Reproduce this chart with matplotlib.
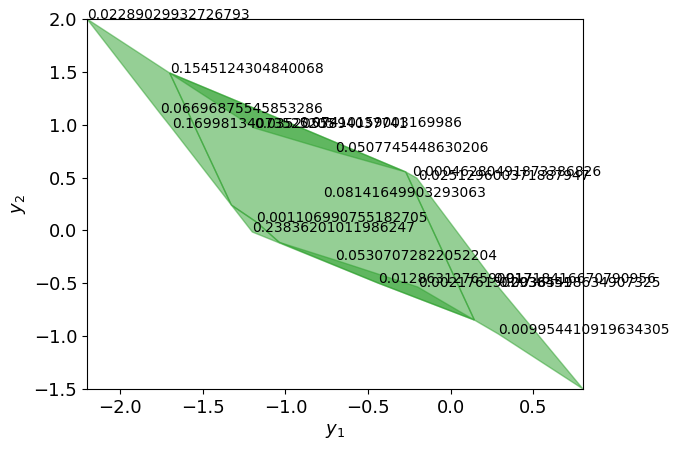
import matplotlib
matplotlib.use('Agg')
import matplotlib.pyplot as plt

# vertices of the filled regions (y1, y2)
left_x = [-2.2, -1.760, -1.688, -1.327, -1.700]
left_y = [2.0, 1.111, 0.969, 0.240, 1.489]

mid_x = [-1.700, -0.917, -0.272, 0.143, -0.441, -1.037, -1.176, -1.327]
mid_y = [1.489, 0.978, 0.553, -0.848, -0.497, -0.113, 0.080, 0.240]

top_x = [-1.700, -0.917, -0.272, -0.700, -1.188]
top_y = [1.489, 0.978, 0.553, 0.742, 0.969]

bot_x = [-1.327, -1.200, -0.441, 0.143, -0.200, -0.700, -1.037, -1.176]
bot_y = [0.240, -0.015, -0.497, -0.848, -0.535, -0.280, -0.113, 0.080]

right_x = [-0.272, -0.206, 0.270, 0.288, 0.8, 0.288, 0.143]
right_y = [0.553, 0.496, -0.497, -0.535, -1.5, -0.980, -0.848]

# labelled points
pt_x = [-2.2, -1.700, -1.760, -1.688, -1.188, -0.917, -0.700, -0.236, -0.200,
        -0.772, -1.176, -1.200, -0.700, -0.441, -0.200, 0.255, 0.288, 0.288]
pt_y = [2.0, 1.489, 1.111, 0.969, 0.969, 0.978, 0.742, 0.515, 0.477,
        0.316, 0.080, -0.015, -0.280, -0.497, -0.535, -0.497, -0.535, -0.980]
pt_labels = ['0.02289029932726793', '0.1545124304840068', '0.06696875545853286',
             '0.16998134073525205', '0.0352055894037741', '0.07410159003169986',
             '0.0507745448630206', '0.00046280491873386826', '0.025129600371887947',
             '0.08141649903293063', '0.001106990755182705', '0.23836201011986247',
             '0.05307072822052204', '0.0128631276590917', '0.0021761502938451',
             '0.01718416670790956', '0.00365498634907325', '0.009954410919634305']

fig = plt.figure(figsize=(6.81, 4.51), dpi=100)
ax = fig.add_axes([0.1278, 0.1375, 0.7283, 0.8204])

for xs, ys in [(left_x, left_y), (mid_x, mid_y), (top_x, top_y),
               (bot_x, bot_y), (right_x, right_y)]:
    ax.fill(xs, ys, color='tab:green', alpha=0.5, lw=1)

for x, y, s in zip(pt_x, pt_y, pt_labels):
    ax.text(x, y, s, fontsize=10)

ax.set_xlim(-2.2, 0.8)
ax.set_ylim(-1.5, 2.0)
ax.tick_params(labelsize=13)
ax.set_xlabel('$y_1$', fontsize=13)
ax.set_ylabel('$y_2$', fontsize=13)

fig.savefig('out.png', dpi=100)
